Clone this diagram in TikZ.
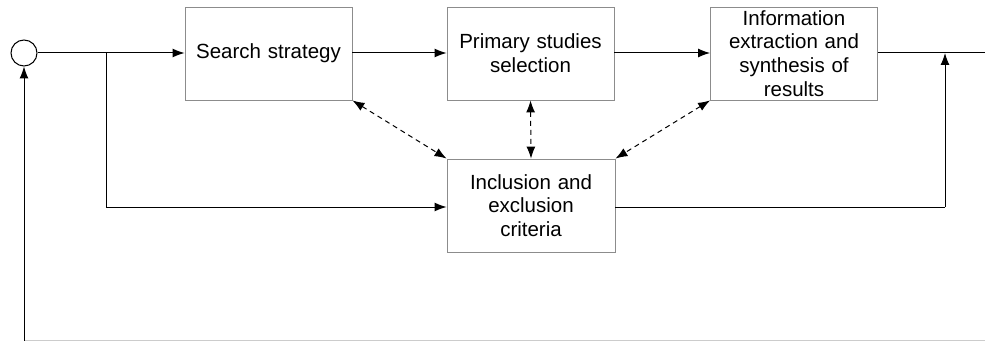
\documentclass[tikz,border=0pt]{standalone}
\usepackage{fontspec}
\setmainfont{Liberation Sans}
\usetikzlibrary{arrows.meta}
\begin{document}
\begin{tikzpicture}[x=1pt,y=-1pt,
  procbox/.style={draw=black!45, line width=0.9pt, rectangle, inner sep=0pt,
    minimum width=167pt, minimum height=93pt, text width=160pt, align=center,
    font=\fontsize{20.5}{23.7}\selectfont},
  conn/.style={line width=1pt, draw=black},
  arr/.style={conn, -{Latex[length=12pt,width=9pt]}},
  darr/.style={conn, dashed, dash pattern=on 5pt off 4pt, {Latex[length=12pt,width=9pt]}-{Latex[length=12pt,width=9pt]}}]
\useasboundingbox (0,0) rectangle (985,342);
\node[circle, draw=black, line width=1pt, minimum size=26pt, inner sep=0pt] (c) at (24,53) {};
\node[procbox] (ss) at (268.5,53.5) {Search strategy};
\node[procbox] (ps) at (530.5,53.5) {Primary studies\\selection};
\node[procbox] (ie) at (794,53.5) {Information\\extraction and\\synthesis of\\results};
\node[procbox, minimum width=168pt] (ic) at (531,205.5) {Inclusion and\\exclusion\\criteria};
\coordinate (br) at (106,53);
\coordinate (brd) at (106,207);
\coordinate (rt) at (945,53);
\coordinate (rtd) at (945,207);
\coordinate (endr) at (985,53);
\coordinate (fb) at (24,340.5);
\coordinate (fbr) at (985,340.5);
\draw[arr] (c.east) -- (ss.west |- c.east);
\draw[conn] (br) -- (brd);
\draw[arr] (brd) -- (ic.west |- brd);
\draw[arr] (ss.east |- c.east) -- (ps.west |- c.east);
\draw[arr] (ps.east |- c.east) -- (ie.west |- c.east);
\draw[conn] (ie.east |- c.east) -- (endr);
\draw[conn] (ic.east |- brd) -- (rtd);
\draw[arr] (rtd) -- (rt);
\draw[darr] (ss.south east) -- (ic.north west);
\draw[darr] (ps.south) -- (ic.north);
\draw[darr] (ie.south west) -- (ic.north east);
\draw[draw=black!20, line width=1.2pt] (fb) -- (fbr);
\draw[arr] (fb) -- (c.south);
\end{tikzpicture}
\end{document}
